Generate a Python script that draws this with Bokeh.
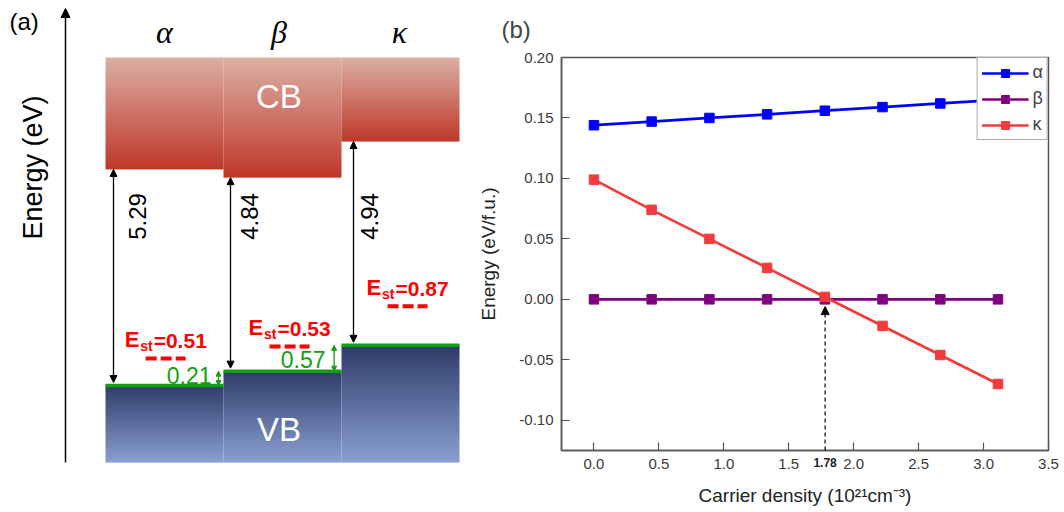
import numpy as np
from math import pi
from bokeh.plotting import figure
from bokeh.layouts import row
from bokeh.models import (Range1d, Arrow, NormalHead, FixedTicker, PrintfTickFormatter,
                          Legend, LegendItem, LinearAxis, Title)
from bokeh.core.properties import value
from bokeh.embed import file_html
from bokeh.resources import INLINE

# ---------------- data: panel (a) (schematic band alignment) ----------------
phases = ["α", "β", "κ"]
band_gap_labels = ["5.29", "4.84", "4.94"]
vb_offset_labels = ["0.21", "0.57"]
est_values = ["0.51", "0.53", "0.87"]
vb_top = [0.0, 0.35, 0.98]          # schematic VB maximum (eV)
cb_bottom = [5.27, 5.07, 5.95]      # schematic CB minimum (eV)
cb_top = [8.0, 8.0, 8.0]
vb_bottom = [-1.88, -1.88, -1.88]
est_level = [0.66, 0.95, 1.93]      # self-trapped exciton levels (schematic)

# ---------------- data: panel (b) ----------------
carrier_density = [0.0, 0.444, 0.889, 1.333, 1.778, 2.222, 2.667, 3.111]
energy_alpha = [0.144, 0.147, 0.150, 0.153, 0.156, 0.159, 0.162, 0.165]
energy_beta = [0.0, 0.0, 0.0, 0.0, 0.0, 0.0, 0.0, 0.0]
energy_kappa = [0.099, 0.074, 0.050, 0.026, 0.002, -0.022, -0.046, -0.070]
crossing_density = 1.78
x_ticks = [0.0, 0.5, 1.0, 1.5, 2.0, 2.5, 3.0, 3.5]
y_ticks = [-0.10, -0.05, 0.0, 0.05, 0.10, 0.15, 0.20]
x_label = "Carrier density (10²¹cm⁻³)"
y_label = "Energy (eV/f.u.)"

SANS = "Liberation Sans"
SERIF = "Liberation Serif"
RED = "#ff0000"
GREEN = "#12a012"
CB_LIGHT = (220, 176, 164)
CB_DARK = (190, 56, 42)
VB_DARK = (46, 60, 106)
VB_LIGHT = (138, 160, 209)


def gradient(c_bottom, c_top, n=256):
    img = np.empty((n, 1), dtype=np.uint32)
    v = img.view(dtype=np.uint8).reshape((n, 1, 4))
    t = np.linspace(0.0, 1.0, n)
    for ch in range(3):
        v[:, 0, ch] = np.round(c_bottom[ch] + (c_top[ch] - c_bottom[ch]) * t).astype(np.uint8)
    v[:, 0, 3] = 255
    return img


# ======================= panel (a) =======================
SX = 118.0   # pixels per phase block
SY = 41.0    # pixels per eV (schematic)


def dx(px):
    return px / SX


def dy(px):
    return px / SY


def mid(y, fs):
    """vertical centre of a text whose baseline sits at y (font size fs px)"""
    return y + dy(0.347 * fs)


p1 = figure(width=470, height=512, x_range=Range1d(-dx(105), dx(365)),
            y_range=Range1d(-dy(127), dy(385)), output_backend="svg",
            toolbar_location=None, x_axis_location=None, y_axis_location=None,
            min_border=0)
p1.frame_align = False
p1.outline_line_color = None
p1.xgrid.visible = False
p1.ygrid.visible = False

for i in range(3):
    p1.image_rgba(image=[gradient(CB_DARK, CB_LIGHT)], x=i, y=cb_bottom[i], dw=1,
                  dh=cb_top[i] - cb_bottom[i])
    p1.image_rgba(image=[gradient(VB_LIGHT, VB_DARK)], x=i, y=vb_bottom[i], dw=1,
                  dh=vb_top[i] - vb_bottom[i])

# green VBM lines
p1.segment(x0=[0, 1, 2], y0=vb_top, x1=[1, 2, 3], y1=vb_top, line_color=GREEN, line_width=3.5)

# energy axis arrow
p1.add_layout(Arrow(x_start=-dx(40), y_start=vb_bottom[0], x_end=-dx(40), y_end=dy(377),
                    line_width=1.5, line_color="black",
                    end=NormalHead(size=9, fill_color="black", line_color="black")))
p1.text(x=[-dx(73)], y=[dy(218)], text=["Energy (eV)"], angle=pi / 2,
        text_font=value(SANS), text_font_size="27px", text_align="center",
        text_baseline="middle", text_color="black")
p1.text(x=[-dx(96)], y=[dy(364)], text=["(a)"], text_font=value(SANS),
        text_font_size="24px", text_align="left", text_baseline="middle", text_color="black")

# phase names
p1.text(x=[0.5, 1.47, 2.49], y=[mid(dy(342), 32)] * 3, text=phases, text_font=value(SERIF),
        text_font_style="italic", text_font_size="32px", text_align="center",
        text_baseline="middle", text_color="black")
p1.text(x=[1.47], y=[mid(dy(278), 33)], text=["CB"], text_font=value(SANS),
        text_font_size="33px", text_align="center", text_baseline="middle",
        text_color="white")
p1.text(x=[1.47], y=[mid(-dy(55), 33)], text=["VB"], text_font=value(SANS),
        text_font_size="33px", text_align="center", text_baseline="middle",
        text_color="white")

# band-gap arrows and labels
arrow_x = [dx(8), 1 + dx(7), 2 + dx(12)]
for i in range(3):
    p1.add_layout(Arrow(x_start=arrow_x[i], y_start=vb_top[i] + dy(3), x_end=arrow_x[i],
                        y_end=cb_bottom[i], line_width=1.3, line_color="black",
                        start=NormalHead(size=7, fill_color="black", line_color="black"),
                        end=NormalHead(size=7, fill_color="black", line_color="black")))
p1.text(x=[arrow_x[0] + dx(24), arrow_x[1] + dx(19), arrow_x[2] + dx(16)], y=[dy(169)] * 3,
        text=band_gap_labels, angle=pi / 2, text_font=value(SANS), text_font_size="24px",
        text_align="center", text_baseline="middle", text_color="black")

# VB offset arrows and labels (green)
for i in range(2):
    ax = i + 1 - dx(5 + 2.4 * i)
    p1.add_layout(Arrow(x_start=ax, y_start=vb_top[i], x_end=ax, y_end=vb_top[i + 1],
                        line_width=1.3, line_color=GREEN,
                        start=NormalHead(size=5, fill_color=GREEN, line_color=GREEN),
                        end=NormalHead(size=5, fill_color=GREEN, line_color=GREEN)))
p1.text(x=[1 - dx(12), 2 - dx(16)], y=[mid(vb_top[0] + dy(2), 23), mid(vb_top[1] + dy(4), 23)],
        text=vb_offset_labels, text_font=value(SANS), text_font_size="23px",
        text_align="right", text_baseline="middle", text_color=GREEN)

# self-trapped exciton levels
dash_x = [0.51, 1.56, 2.56]
p1.segment(x0=[x - dx(20) for x in dash_x], y0=est_level, x1=[x + dx(20) for x in dash_x],
           y1=est_level, line_color=RED, line_width=4, line_dash="11 4")
x0 = [x - dx(41) for x in dash_x]
base = [lv + dy(11) for lv in est_level]
p1.text(x=x0, y=[mid(b, 22) for b in base], text=["E"] * 3, text_font=value(SANS),
        text_font_style="bold", text_font_size="22px", text_align="left",
        text_baseline="middle", text_color=RED)
p1.text(x=[x + dx(15.5) for x in x0], y=[mid(b - dy(3.5), 14) for b in base], text=["st"] * 3,
        text_font=value(SANS), text_font_style="bold", text_font_size="14px",
        text_align="left", text_baseline="middle", text_color=RED)
p1.text(x=[x + dx(29) for x in x0], y=[mid(b, 21) for b in base],
        text=["=" + v for v in est_values], text_font=value(SANS), text_font_style="bold",
        text_font_size="21px", text_align="left", text_baseline="middle", text_color=RED)

# ======================= panel (b) =======================
p2 = figure(frame_width=487, frame_height=393, x_range=Range1d(-0.25, 3.5),
            y_range=Range1d(-0.125, 0.20), output_backend="svg", toolbar_location=None,
            min_border_left=91, min_border_right=16, min_border_top=57, min_border_bottom=62)
p2.frame_align = False
p2.xgrid.visible = False
p2.ygrid.visible = False
p2.outline_line_color = "#555555"
p2.outline_line_width = 1.5

xax = p2.xaxis[0]
yax = p2.yaxis[0]
xax.ticker = FixedTicker(ticks=x_ticks)
yax.ticker = FixedTicker(ticks=y_ticks)
xax.formatter = PrintfTickFormatter(format="%.1f")
yax.formatter = PrintfTickFormatter(format="%.2f")
for ax in (xax, yax):
    ax.axis_line_color = "#555555"
    ax.axis_line_width = 1.5
    ax.major_tick_in = 8
    ax.major_tick_out = 0
    ax.major_tick_line_color = "#555555"
    ax.major_tick_line_width = 1.2
    ax.minor_tick_line_color = None
    ax.major_label_text_font = SANS
    ax.major_label_text_font_size = "15px"
    ax.major_label_text_color = "#3a3a3a"
xax.major_label_standoff = 8
yax.major_label_standoff = 8
yax.axis_label = y_label
yax.axis_label_text_font = SANS
yax.axis_label_text_font_size = "19px"
yax.axis_label_text_font_style = "normal"
yax.axis_label_text_color = "#222222"
yax.axis_label_standoff = 17

# bold crossing value sits in the tick-label row; this axis also carries the x title
cross_axis = LinearAxis(ticker=FixedTicker(ticks=[crossing_density]),
                        formatter=PrintfTickFormatter(format="%.2f"),
                        axis_line_color=None, major_tick_line_color=None,
                        minor_tick_line_color=None, major_tick_in=0, major_tick_out=0,
                        major_label_text_font=SANS, major_label_text_font_size="12px",
                        major_label_text_font_style="bold", major_label_text_color="#222222",
                        major_label_standoff=-14,
                        axis_label=x_label, axis_label_text_font=SANS,
                        axis_label_text_font_size="19px", axis_label_text_font_style="normal",
                        axis_label_text_color="#222222", axis_label_standoff=15)
p2.add_layout(cross_axis, "below")

series = [(energy_alpha, "#0000ff", "α"), (energy_beta, "#800080", "β"),
          (energy_kappa, "#f03c3c", "κ")]
items = []
for ys, color, name in series:
    r1 = p2.line(carrier_density, ys, line_color=color, line_width=2.7)
    r2 = p2.scatter(carrier_density, ys, marker="square", size=9.5, fill_color=color,
                    line_color=color)
    items.append(LegendItem(label=name, renderers=[r1, r2]))

p2.add_layout(Arrow(x_start=crossing_density, y_start=-0.125, x_end=crossing_density,
                    y_end=-0.006, line_dash="4 3", line_width=1.2, line_color="black",
                    end=NormalHead(size=8, fill_color="black", line_color="black")))

legend = Legend(items=items, location="top_right", margin=0, padding=4, spacing=5,
                glyph_width=47, glyph_height=20, label_width=0, label_height=20,
                label_standoff=4, border_line_color="#555555", border_line_width=1.5,
                background_fill_color="white", background_fill_alpha=1.0,
                label_text_font=SANS, label_text_font_size="18px")
p2.add_layout(legend)

p2.add_layout(Title(text="(b)", align="left", offset=-60, text_font=SANS,
                    text_font_size="24px", text_font_style="normal", standoff=28,
                    vertical_align="middle"), "above")

layout = row(p1, p2)
open("out.html", "w").write(file_html(layout, INLINE, title="Band alignment"))
